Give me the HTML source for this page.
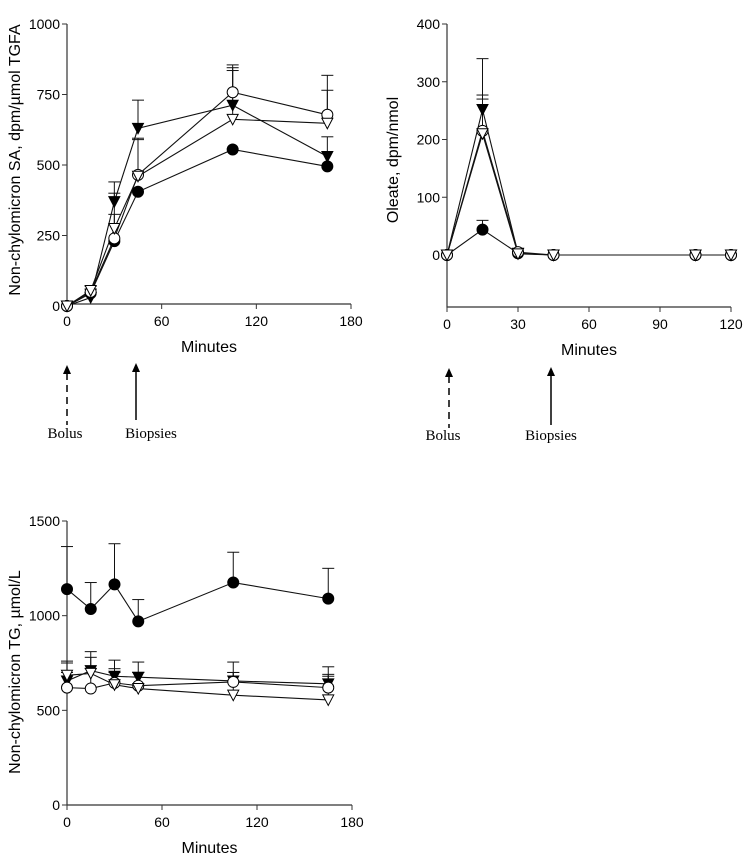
<!DOCTYPE html>
<html><head><meta charset="utf-8"><style>
body{margin:0;background:#fff}
svg{display:block;font-family:"Liberation Sans",Arial,sans-serif}
.ser{font-family:"Liberation Serif",serif}
</style></head><body>
<svg id="s" width="753" height="858"></svg>
<script>
const xA=[0,15,30,45,105,165];
const aFC=[0,45,230,405,555,495];
const aFT=[0,30,370,630,712,530];
const aOC=[0,50,240,465,758,678];
const aOT=[0,55,275,460,662,648];
const aFCe=[0,60,0,0,0,0];
const aFTe=[0,70,440,730,845,600];
const aOCe=[0,60,325,595,855,818];
const aOTe=[0,60,400,590,835,765];
const xB=[0,15,30,45,105,120];
const bFC=[0,44,3,0,0,0];
const bFT=[0,252,3,0,0,0];
const bOC=[0,215,5,0,0,0];
const bOT=[0,210,2,0,0,0];
const bFCe=[0,60,0,0,0,0];
const bFTe=[0,340,0,0,0,0];
const bOCe=[0,277,0,0,0,0];
const bOTe=[0,270,0,0,0,0];
const xC=[0,15,30,45,105,165];
const cFC=[1140,1035,1165,970,1175,1090];
const cFT=[655,710,680,675,655,640];
const cOC=[620,615,645,630,650,620];
const cOT=[685,695,635,615,580,555];
const cFCe=[1365,1175,1380,1085,1335,1250];
const cFTe=[750,810,765,755,755,730];
const cOCe=[700,720,700,700,700,690];
const cOTe=[760,780,720,700,700,680];
const ticksA=[0,250,500,750,1000], xtA=[0,60,120,180];
const ticksB=[0,100,200,300,400], xtB=[0,30,60,90,120];
const ticksC=[0,500,1000,1500];

const S=document.getElementById('s');const NS='http://www.w3.org/2000/svg';
function el(t,a,p,txt){const e=document.createElementNS(NS,t);for(const k in a)e.setAttribute(k,a[k]);if(txt!==undefined)e.textContent=txt;(p||S).appendChild(e);return e;}
function chart(cfg){
 const g=el('g',{});
 
 
 const X=v=>cfg.x0+(v-cfg.xmin)/(cfg.xmax-cfg.xmin)*(cfg.x1-cfg.x0);
 const Y=v=>cfg.y0+(v-cfg.ymin0)/(cfg.ymax-cfg.ymin0)*(cfg.y1-cfg.y0);
 const ax=el('path',{d:`M${cfg.x0} ${cfg.ytop}V${cfg.axisY}H${cfg.x1}`,stroke:'#333',fill:'none','stroke-width':1.2},g);
 
 cfg.yt.forEach(v=>{el('line',{x1:cfg.x0-5,x2:cfg.x0,y1:Y(v),y2:Y(v),stroke:'#333'},g);
  const t=el('text',{x:cfg.x0-7,y:Y(v)+5,'text-anchor':'end','font-size':14},g,v);
  });
 cfg.xt.forEach(v=>{el('line',{x1:X(v),x2:X(v),y1:cfg.axisY,y2:cfg.axisY+5,stroke:'#333'},g);
  const t=el('text',{x:X(v),y:cfg.axisY+22,'text-anchor':'middle','font-size':14},g,v);
  });
 const yl=el('text',{transform:`translate(${cfg.ylx},${cfg.yly}) rotate(-90)`,'text-anchor':'middle','font-size':16},g,cfg.ylabel);
 
 const xl=el('text',{x:(cfg.x0+cfg.x1)/2,y:cfg.axisY+48,'text-anchor':'middle','font-size':16},g,'Minutes');
 
 cfg.series.forEach(s=>{
  const sg=el('g',{},g);
  
  s.v.forEach((v,i)=>{const e=s.e[i];if(e>v){el('line',{x1:X(cfg.xs[i]),x2:X(cfg.xs[i]),y1:Y(v),y2:Y(e),stroke:'#111'},sg);el('line',{x1:X(cfg.xs[i])-6,x2:X(cfg.xs[i])+6,y1:Y(e),y2:Y(e),stroke:'#111'},sg);}});
  el('polyline',{points:s.v.map((v,i)=>X(cfg.xs[i])+','+Y(v)).join(' '),fill:'none',stroke:'#111','stroke-width':1.1},sg);
 });
 cfg.series.forEach(s=>{
  s.v.forEach((v,i)=>{const x=X(cfg.xs[i]),y=Y(v);let m;
   const fill=s.f?'#000':'#fff';
   if(s.t)m=el('path',{d:`M${x-5.5} ${y-5}H${x+5.5}L${x} ${y+5.5}Z`,fill,stroke:'#000'},g);
   else m=el('circle',{cx:x,cy:y,r:5.5,fill,stroke:'#000'},g);
   });
 });
}
chart({name:'chart-sa',x0:67,x1:351,xmin:0,xmax:180,y0:306,y1:24,ymin0:0,ymax:1000,ytop:24,axisY:304,yt:ticksA,xt:xtA,xs:xA,ylx:20,yly:160,ylabel:'Non-chylomicron SA, dpm/µmol TGFA',
 series:[{n:'filled-circle',v:aFC,e:aFCe,f:1},{n:'filled-triangle',v:aFT,e:aFTe,f:1,t:1},{n:'open-circle',v:aOC,e:aOCe},{n:'open-triangle',v:aOT,e:aOTe,t:1}]});
chart({name:'chart-oleate',x0:447,x1:731,xmin:0,xmax:120,y0:255,y1:24,ymin0:0,ymax:400,ytop:24,axisY:307,yt:ticksB,xt:xtB,xs:xB,ylx:398,yly:160,ylabel:'Oleate, dpm/nmol',
 series:[{n:'filled-circle',v:bFC,e:bFCe,f:1},{n:'filled-triangle',v:bFT,e:bFTe,f:1,t:1},{n:'open-circle',v:bOC,e:bOCe},{n:'open-triangle',v:bOT,e:bOTe,t:1}]});
chart({name:'chart-tg',x0:67,x1:352,xmin:0,xmax:180,y0:805,y1:521,ymin0:0,ymax:1500,ytop:521,axisY:805,yt:ticksC,xt:xtA,xs:xC,ylx:20,yly:672,ylabel:'Non-chylomicron TG, µmol/L',
 series:[{n:'filled-circle',v:cFC,e:cFCe,f:1},{n:'filled-triangle',v:cFT,e:cFTe,f:1,t:1},{n:'open-circle',v:cOC,e:cOCe},{n:'open-triangle',v:cOT,e:cOTe,t:1}]});
function arrow(x,y1,y2,dash,name){const g=el('g',{});
 el('line',{x1:x,x2:x,y1:y1+8,y2:y2,stroke:'#000','stroke-width':1.5,'stroke-dasharray':dash?'7,5':'none'},g);
 el('path',{d:`M${x-4} ${y1+9}L${x} ${y1}L${x+4} ${y1+9}Z`,fill:'#000'},g);}
arrow(67,365,425,1,'bolus-arrow-1');arrow(136,363,420,0,'biopsies-arrow-1');
arrow(449,368,428,1,'bolus-arrow-2');arrow(551,367,425,0,'biopsies-arrow-2');
[[65,438,'Bolus'],[151,438,'Biopsies'],[443,440,'Bolus'],[551,440,'Biopsies']].forEach(a=>{
 const t=el('text',{x:a[0],y:a[1],'text-anchor':'middle','font-size':15,class:'ser'},S,a[2]);
 });
</script>
</body></html>
